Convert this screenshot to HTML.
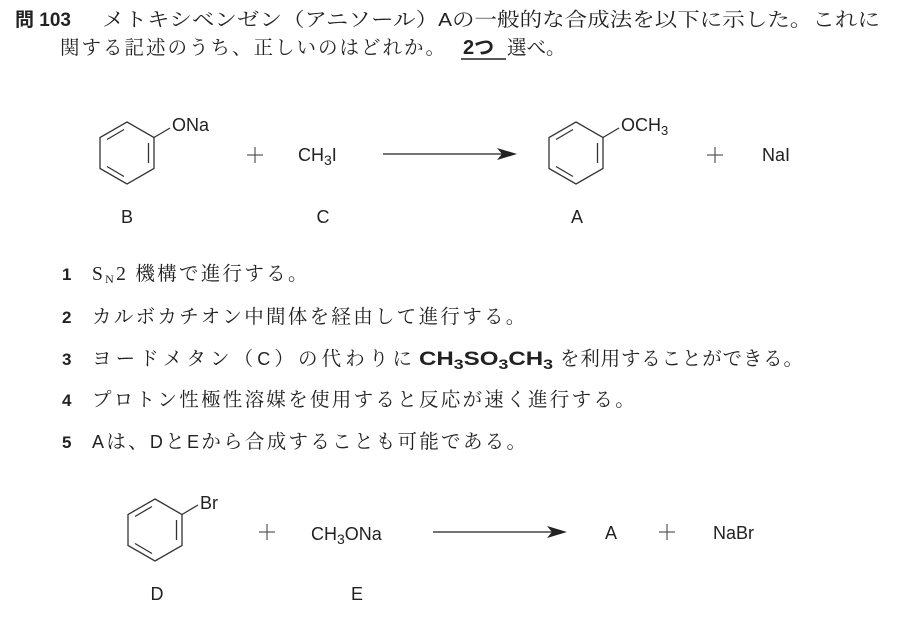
<!DOCTYPE html>
<html><head><meta charset="utf-8"><style>
html,body{margin:0;padding:0;background:#fff}
svg{display:block}
.j{font-family:"Liberation Serif","Noto Serif CJK JP","Noto Serif CJK SC",serif;font-size:19.5px;fill:#222}
.s{font-family:"Liberation Sans","Noto Sans CJK JP",sans-serif;font-size:18px;fill:#222}
.b{font-family:"Liberation Sans","Noto Sans CJK JP",sans-serif;font-weight:bold;fill:#222}
.li{letter-spacing:2.3px}
</style></head><body>
<svg width="911" height="617" viewBox="0 0 911 617" xmlns="http://www.w3.org/2000/svg">
<defs>
<g id="hex" fill="none" stroke="#333" stroke-width="1.3">
<polygon points="0,-31 27,-15.5 27,15.5 0,31 -27,15.5 -27,-15.5"/>
<line x1="-20" y1="-13.5" x2="-3" y2="-23.5"/>
<line x1="21.5" y1="-10" x2="21.5" y2="10"/>
<line x1="-20" y1="13.5" x2="-3" y2="23.5"/>
<line x1="27" y1="-15.5" x2="43" y2="-25"/>
</g>
<g id="plus" stroke="#555" stroke-width="1.2">
<line x1="-8" y1="0" x2="8" y2="0"/><line x1="0" y1="-8" x2="0" y2="8"/>
</g>
</defs>
<text x="15" y="26" class="b" font-size="19">問 103</text>
<text x="102" y="26" class="j" textLength="778" lengthAdjust="spacingAndGlyphs">メトキシベンゼン（アニソール）<tspan class="s" font-weight="normal" font-size="19">A</tspan>の一般的な合成法を以下に示した。これに</text>
<text x="60" y="54" class="j" textLength="385" lengthAdjust="spacing">関する記述のうち、正しいのはどれか。</text>
<text x="463" y="54" class="b" font-size="20">2つ</text>
<line x1="461" y1="59" x2="506" y2="59" stroke="#222" stroke-width="1.5"/>
<text x="507" y="54" class="j">選べ。</text>

<use href="#hex" x="127" y="153"/>
<text x="172" y="131" class="s" font-size="17">ONa</text>
<use href="#plus" x="255" y="155"/>
<text x="298" y="161" class="s" font-size="19">CH<tspan font-size="14" dy="4">3</tspan><tspan dy="-4">I</tspan></text>
<line x1="383" y1="154" x2="505" y2="154" stroke="#222" stroke-width="1.3"/>
<polygon points="517,154 497,148 502,154 497,160" fill="#222"/>
<use href="#hex" x="576" y="153"/>
<text x="621" y="131" class="s" font-size="17">OCH<tspan font-size="13" dy="4">3</tspan></text>
<use href="#plus" x="715" y="155"/>
<text x="762" y="161" class="s" font-size="19">NaI</text>
<text x="127" y="223" class="s" text-anchor="middle">B</text>
<text x="323" y="223" class="s" text-anchor="middle">C</text>
<text x="577" y="223" class="s" text-anchor="middle">A</text>

<g class="b" font-size="17">
<text x="62" y="280">1</text><text x="62" y="323">2</text><text x="62" y="365">3</text><text x="62" y="406">4</text><text x="62" y="448">5</text>
</g>
<text x="92" y="280" class="j li">S<tspan font-size="12" dy="3">N</tspan><tspan dy="-3">2 機構で進行する。</tspan></text>
<text x="92" y="323" class="j li">カルボカチオン中間体を経由して進行する。</text>
<text x="92" y="365" class="j" textLength="320" lengthAdjust="spacing">ヨードメタン（<tspan class="s" font-size="19">C</tspan>）の代わりに</text>
<text x="419" y="365" class="b" font-size="19" textLength="134" lengthAdjust="spacingAndGlyphs">CH<tspan font-size="14" dy="4">3</tspan><tspan dy="-4">SO</tspan><tspan font-size="14" dy="4">3</tspan><tspan dy="-4">CH</tspan><tspan font-size="14" dy="4">3</tspan></text>
<text x="560" y="365" class="j" textLength="243" lengthAdjust="spacing">を利用することができる。</text>
<text x="92" y="406" class="j li">プロトン性極性溶媒を使用すると反応が速く進行する。</text>
<text x="92" y="448" class="j li"><tspan class="s" font-size="19">A</tspan>は、<tspan class="s" font-size="19">D</tspan>と<tspan class="s" font-size="19">E</tspan>から合成することも可能である。</text>

<use href="#hex" x="155" y="530"/>
<text x="200" y="509" class="s" font-size="17">Br</text>
<use href="#plus" x="267" y="532"/>
<text x="311" y="540" class="s" font-size="19">CH<tspan font-size="14" dy="4">3</tspan><tspan dy="-4">ONa</tspan></text>
<line x1="433" y1="532" x2="555" y2="532" stroke="#222" stroke-width="1.3"/>
<polygon points="567,532 547,526 552,532 547,538" fill="#222"/>
<text x="605" y="539" class="s" font-size="19">A</text>
<use href="#plus" x="667" y="532"/>
<text x="713" y="539" class="s" font-size="19">NaBr</text>
<text x="157" y="600" class="s" text-anchor="middle">D</text>
<text x="357" y="600" class="s" text-anchor="middle">E</text>
</svg>
</body></html>
